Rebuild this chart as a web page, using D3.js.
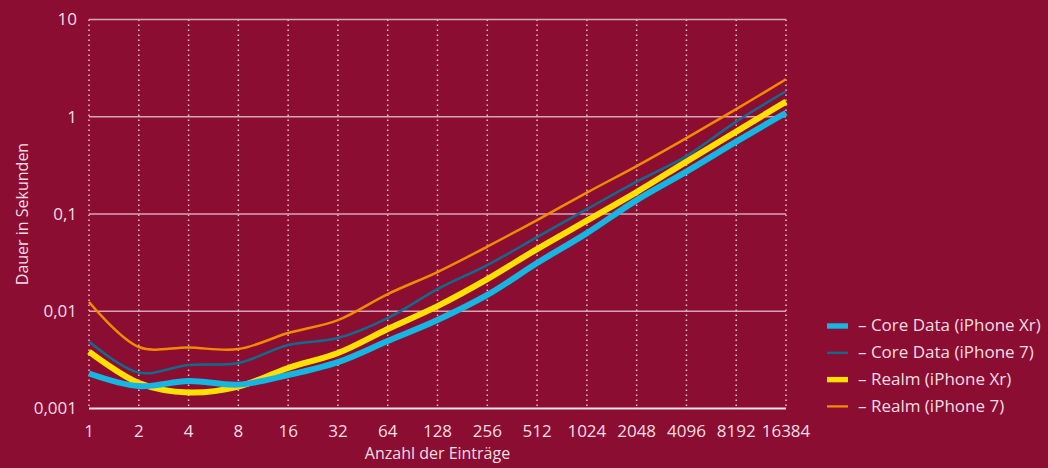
<!DOCTYPE html>
<html>
<head>
<meta charset="utf-8">
<script src="https://cdn.jsdelivr.net/npm/d3@7"></script>
<style>
  html, body { margin: 0; padding: 0; background: #8c0d32; }
  svg { display: block; font-family: "Open Sans", sans-serif; }
</style>
</head>
<body>
<div id="chart"></div>
<script>
// Entries (x, log2 scale) and durations in seconds (y, log10 scale)
const entries = [1, 2, 4, 8, 16, 32, 64, 128, 256, 512, 1024, 2048, 4096, 8192, 16384];
const yTicks = [0.001, 0.01, 0.1, 1, 10];
const yTickLabels = ["0,001", "0,01", "0,1", "1", "10"];

const coreDataXr = [0.00229, 0.0017, 0.00192, 0.00176, 0.00221, 0.0030, 0.00494, 0.00812, 0.0147, 0.0313, 0.0636, 0.139, 0.273, 0.555, 1.10];
const coreData7  = [0.00488, 0.00234, 0.0028, 0.00294, 0.00449, 0.0053, 0.00851, 0.0169, 0.0298, 0.0579, 0.112, 0.215, 0.394, 0.891, 1.83];
const realmXr    = [0.00385, 0.00183, 0.00146, 0.00168, 0.00261, 0.00372, 0.00656, 0.0113, 0.0214, 0.0436, 0.0855, 0.168, 0.346, 0.703, 1.43];
const realm7     = [0.01243, 0.00429, 0.00424, 0.00409, 0.00597, 0.00812, 0.01503, 0.0253, 0.0462, 0.0866, 0.166, 0.311, 0.603, 1.197, 2.43];

const seriesNames = ["Core Data (iPhone Xr)", "Core Data (iPhone 7)", "Realm (iPhone Xr)", "Realm (iPhone 7)"];

const series = [
  { name: seriesNames[0], values: coreDataXr, color: "#16b6e2", width: 6 },
  { name: seriesNames[1], values: coreData7,  color: "#0e6d8e", width: 2.5 },
  { name: seriesNames[2], values: realmXr,    color: "#ffe000", width: 6 },
  { name: seriesNames[3], values: realm7,     color: "#f28b00", width: 2.5 }
];

const W = 1048, H = 468;
const margin = { top: 19.5, left: 89, right: 262, bottom: 59.5 };
const textColor = "#f2dde3";

const svg = d3.select("#chart").append("svg")
  .attr("width", W)
  .attr("height", H);

svg.append("rect").attr("width", W).attr("height", H).attr("fill", "#8c0d32");

const x = d3.scaleLog().base(2)
  .domain([1, 16384])
  .range([margin.left, W - margin.right]);
const y = d3.scaleLog()
  .domain([0.001, 10])
  .range([H - margin.bottom, margin.top]);

// vertical dotted grid
svg.append("g")
  .selectAll("line")
  .data(entries)
  .join("line")
  .attr("x1", d => x(d)).attr("x2", d => x(d))
  .attr("y1", y(10)).attr("y2", y(0.001))
  .attr("stroke", "#e6c3cd")
  .attr("stroke-width", 1.5)
  .attr("stroke-dasharray", "1.5,3.5");

// horizontal grid (solid)
svg.append("g")
  .selectAll("line")
  .data(yTicks.slice(1))
  .join("line")
  .attr("x1", x(1)).attr("x2", x(16384))
  .attr("y1", d => y(d)).attr("y2", d => y(d))
  .attr("stroke", "#d6a6b4")
  .attr("stroke-width", 1.5);

// bottom axis line
svg.append("line")
  .attr("x1", x(1)).attr("x2", x(16384))
  .attr("y1", y(0.001)).attr("y2", y(0.001))
  .attr("stroke", "#f4e4e9")
  .attr("stroke-width", 2);

// y tick labels
svg.append("g")
  .selectAll("text")
  .data(yTicks)
  .join("text")
  .attr("x", 77)
  .attr("y", d => y(d))
  .attr("dy", "0.35em")
  .attr("text-anchor", "end")
  .attr("fill", textColor)
  .style("font-size", "17px")
  .text((d, i) => yTickLabels[i]);

// x tick labels
svg.append("g")
  .selectAll("text")
  .data(entries)
  .join("text")
  .attr("x", d => x(d))
  .attr("y", 431)
  .attr("dy", "0.35em")
  .attr("text-anchor", "middle")
  .attr("fill", textColor)
  .style("font-size", "17px")
  .text(d => d);

// axis titles
svg.append("text")
  .attr("x", (x(1) + x(16384)) / 2)
  .attr("y", 453)
  .attr("dy", "0.35em")
  .attr("text-anchor", "middle")
  .attr("fill", textColor)
  .style("font-size", "16px")
  .text("Anzahl der Einträge");

svg.append("text")
  .attr("transform", "translate(22,214) rotate(-90)")
  .attr("dy", "0.35em")
  .attr("text-anchor", "middle")
  .attr("fill", textColor)
  .style("font-size", "16px")
  .text("Dauer in Sekunden");

// lines
const line = d3.line()
  .x((d, i) => x(entries[i]))
  .y(d => y(d))
  .curve(d3.curveCatmullRom.alpha(0.5));

const drawOrder = [3, 1, 2, 0];
svg.append("g")
  .selectAll("path")
  .data(drawOrder.map(i => series[i]))
  .join("path")
  .attr("d", d => line(d.values))
  .attr("fill", "none")
  .attr("stroke", d => d.color)
  .attr("stroke-width", d => d.width)
  .attr("stroke-linejoin", "round");

// legend
const legend = svg.append("g")
  .selectAll("g")
  .data(series)
  .join("g")
  .attr("transform", (d, i) => `translate(827,${326 + i * 26.8})`);

legend.append("rect")
  .attr("x", 0)
  .attr("y", d => -(d.width * 0.9) / 2)
  .attr("width", 21)
  .attr("height", d => d.width * 0.9)
  .attr("fill", d => d.color);

legend.append("text")
  .attr("x", 31)
  .attr("dy", "0.3em")
  .attr("fill", textColor)
  .style("font-size", "17px")
  .text(d => "– " + d.name);
</script>
</body>
</html>
